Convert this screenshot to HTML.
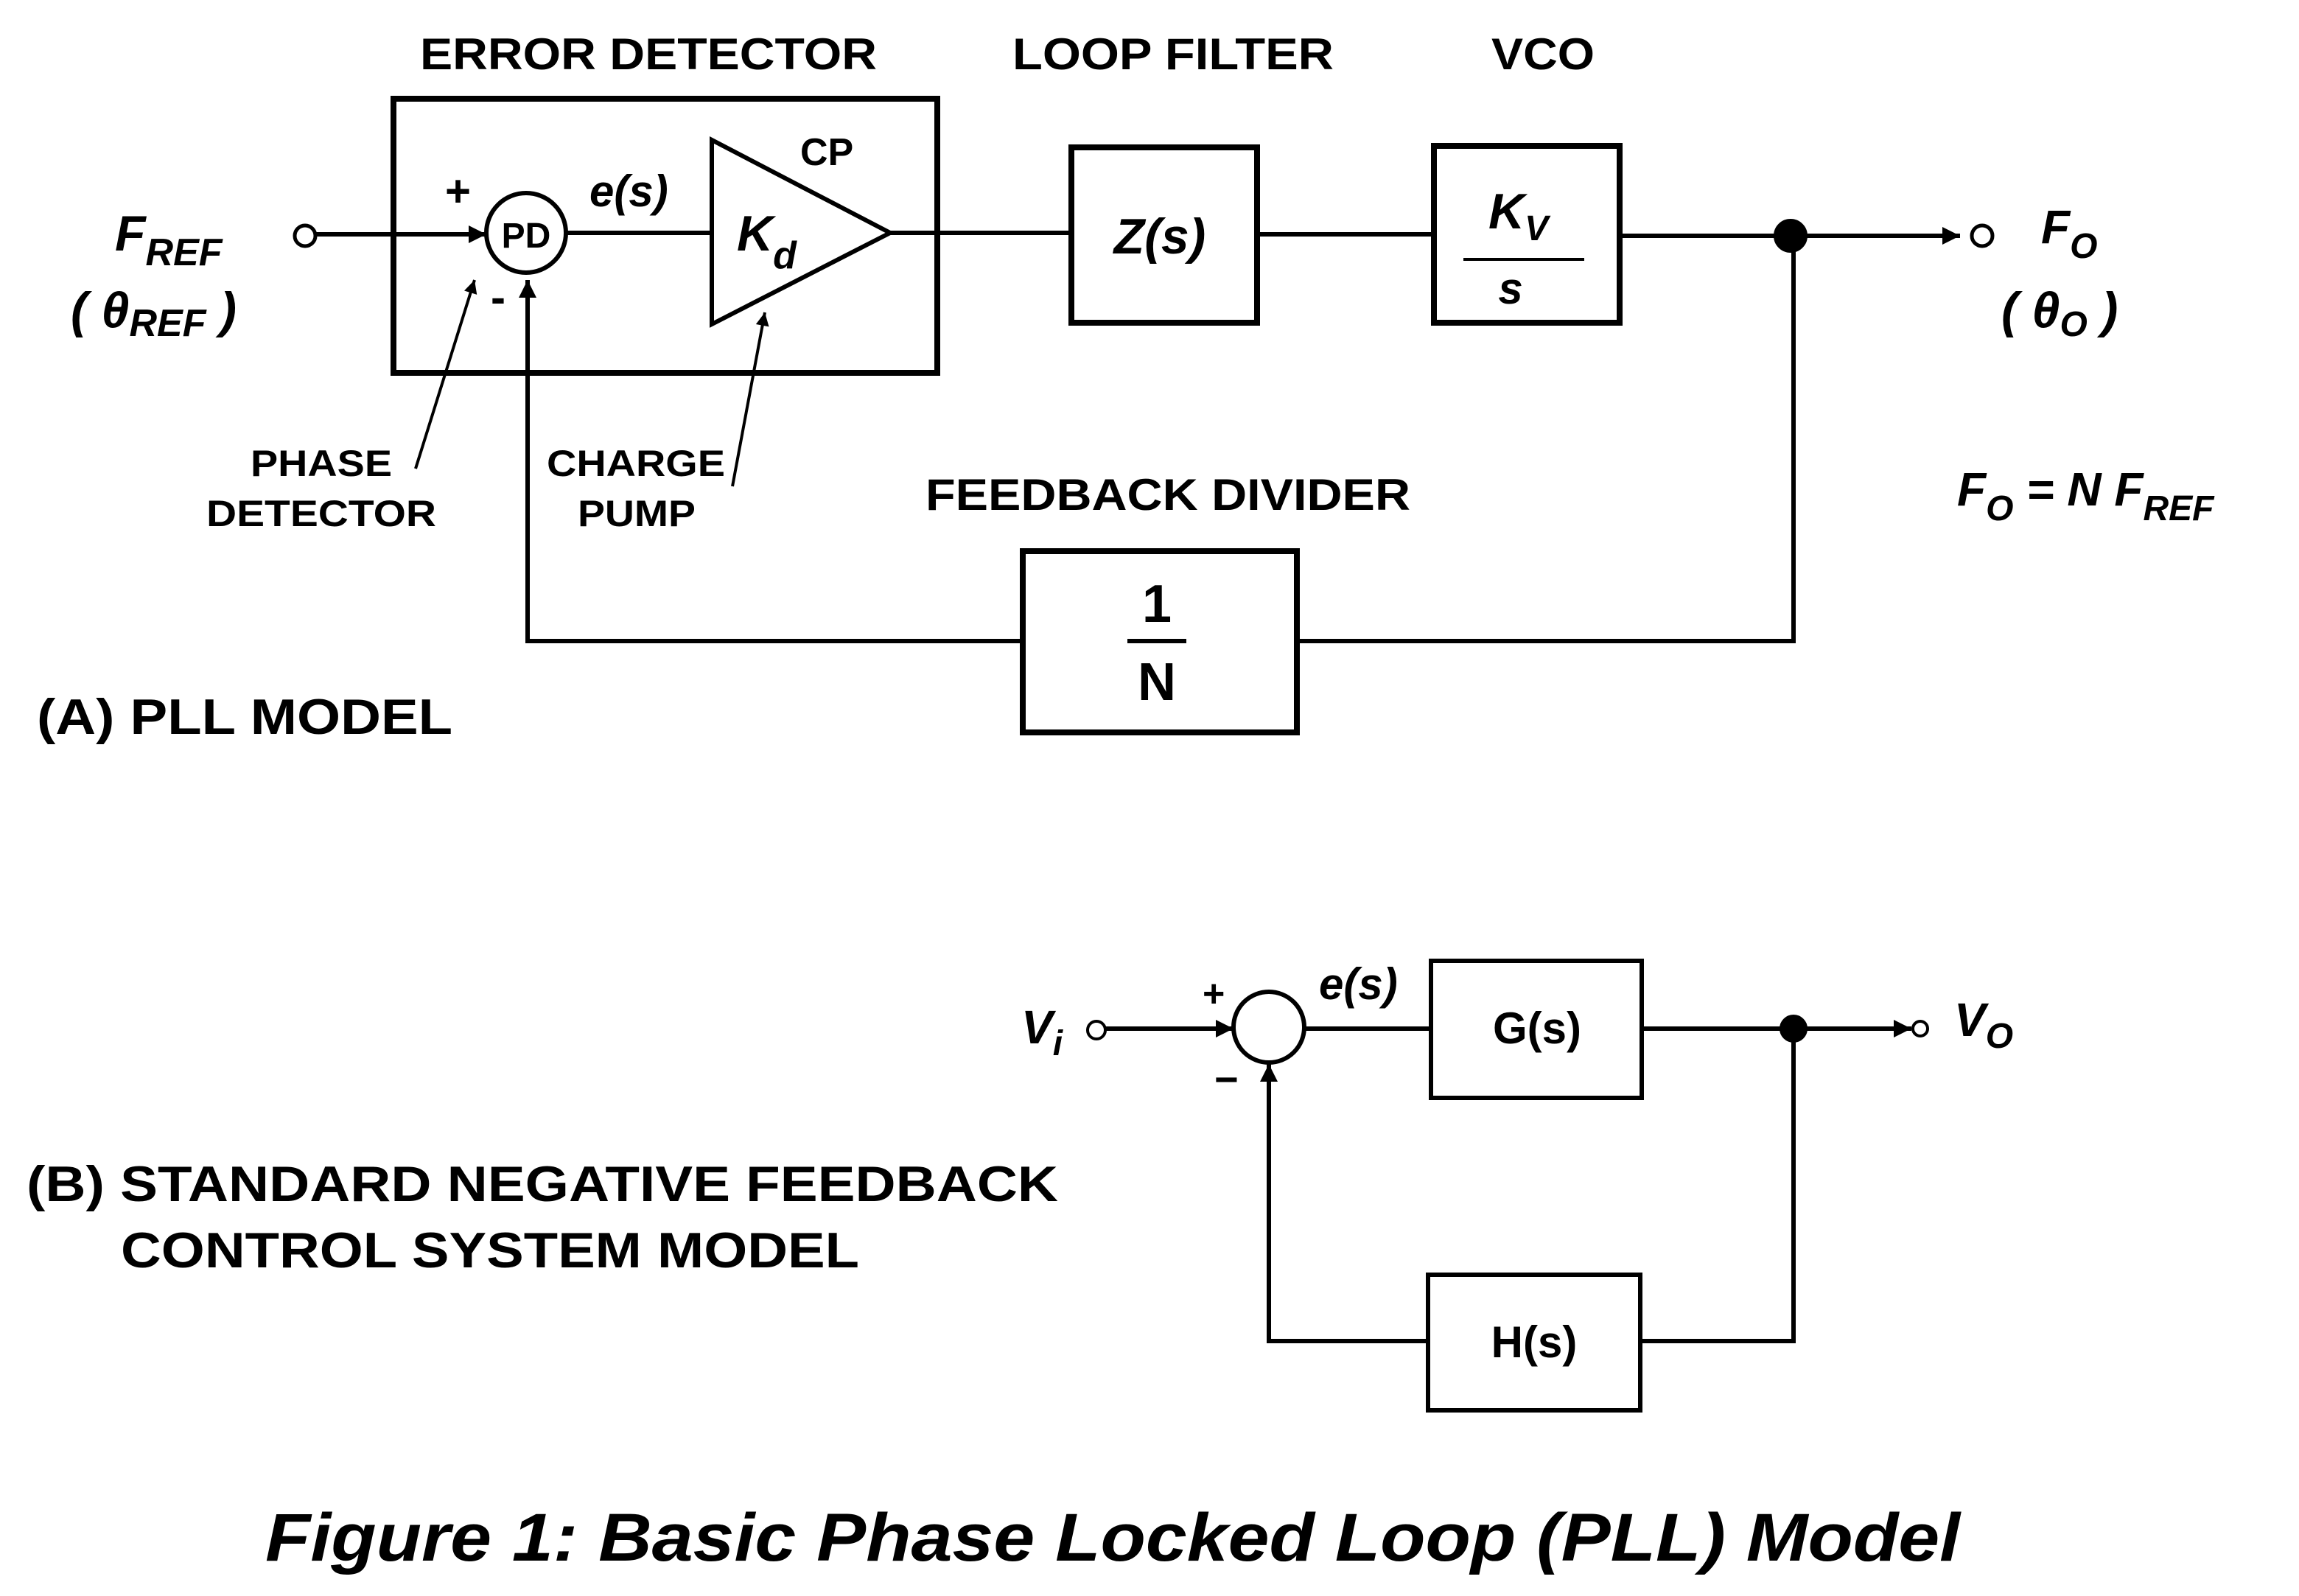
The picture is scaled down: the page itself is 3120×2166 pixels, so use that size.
<!DOCTYPE html>
<html><head><meta charset="utf-8"><style>
html,body{margin:0;padding:0;background:#fff;}
svg{display:block;}
text{font-family:"Liberation Sans",Arial,sans-serif;font-weight:bold;fill:#000;}
</style></head><body>
<svg width="3120" height="2166" viewBox="0 0 1560 1083" xmlns="http://www.w3.org/2000/svg">
<defs>
<marker id="ar" viewBox="0 0 10 10" refX="10" refY="5" markerWidth="16" markerHeight="9" orient="auto" markerUnits="userSpaceOnUse">
<path d="M0,0 L10,5 L0,10 z" fill="#000"/></marker>
<marker id="ab" viewBox="0 0 10 10" refX="10" refY="5" markerWidth="24" markerHeight="12" orient="auto" markerUnits="userSpaceOnUse">
<path d="M0,0 L10,5 L0,10 z" fill="#000"/></marker>
</defs>
<g stroke="#000" fill="none" stroke-width="3">
<rect x="267" y="67" width="369" height="186" stroke-width="4"/>
<circle cx="207" cy="160" r="7" stroke-width="2.5"/>
<line x1="214" y1="159" x2="330" y2="159" marker-end="url(#ab)"/>
<circle cx="357" cy="158" r="27"/>
<line x1="384" y1="158" x2="483" y2="158"/>
<polygon points="483,95 483,220 604,158"/>
<line x1="604" y1="158" x2="727" y2="158"/>
<rect x="727" y="100" width="126" height="119" stroke-width="4"/>
<line x1="853" y1="159" x2="973" y2="159"/>
<rect x="973" y="99" width="126" height="120" stroke-width="4"/>
<line x1="993" y1="176" x2="1075" y2="176" stroke-width="2"/>
<line x1="1099" y1="160" x2="1330" y2="160" marker-end="url(#ab)"/>
<circle cx="1345" cy="160" r="7" stroke-width="2.5"/>
<circle cx="1215" cy="160" r="10" fill="#000"/>
<polyline points="1217,160 1217,435 880,435"/>
<rect x="694" y="374" width="186" height="123" stroke-width="4"/>
<polyline points="694,435 358,435 358,190" marker-end="url(#ab)"/>
<line x1="282" y1="318" x2="322" y2="190" stroke-width="2" marker-end="url(#ar)"/>
<line x1="497" y1="330" x2="519" y2="212" stroke-width="2" marker-end="url(#ar)"/>
<circle cx="744" cy="699" r="6" stroke-width="2"/>
<line x1="750" y1="698" x2="837" y2="698" marker-end="url(#ab)"/>
<circle cx="861" cy="697" r="24"/>
<line x1="885" y1="698" x2="971" y2="698"/>
<rect x="971" y="652" width="143" height="93"/>
<line x1="1114" y1="698" x2="1297" y2="698" marker-end="url(#ab)"/>
<circle cx="1303" cy="698" r="5" stroke-width="2"/>
<circle cx="1217" cy="698" r="8" fill="#000"/>
<polyline points="1217,698 1217,910 1113,910"/>
<rect x="969" y="865" width="144" height="92"/>
<polyline points="969,910 861,910 861,722" marker-end="url(#ab)"/>
</g>
<text x="285" y="47" font-size="30" textLength="310" lengthAdjust="spacingAndGlyphs">ERROR DETECTOR</text>
<text x="687" y="47" font-size="30" textLength="218" lengthAdjust="spacingAndGlyphs">LOOP FILTER</text>
<text x="1012" y="47" font-size="30" textLength="70" lengthAdjust="spacingAndGlyphs">VCO</text>
<text x="78" y="170" font-size="34" font-style="italic">F<tspan font-size="26" dy="10">REF</tspan></text>
<text x="48" y="222" font-size="34" font-style="italic">( θ<tspan font-size="26" dy="6">REF</tspan><tspan dy="-6"> )</tspan></text>
<text x="357" y="168" font-size="24" text-anchor="middle">PD</text>
<text x="302" y="140" font-size="30">+</text>
<text x="333" y="212" font-size="30">-</text>
<text x="400" y="140" font-size="30" font-style="italic">e(s)</text>
<text x="500" y="170" font-size="34" font-style="italic">K<tspan font-size="26" dy="12">d</tspan></text>
<text x="543" y="112" font-size="26">CP</text>
<text x="787" y="172" font-size="34" font-style="italic" text-anchor="middle">Z(s)</text>
<text x="1010" y="155" font-size="34" font-style="italic">K<tspan font-size="24" dy="8">V</tspan></text>
<text x="1025" y="206" font-size="30" font-style="italic" text-anchor="middle">s</text>
<text x="1385" y="165" font-size="32" font-style="italic">F<tspan font-size="24" dy="10">O</tspan></text>
<text x="1358" y="222" font-size="34" font-style="italic">( θ<tspan font-size="24" dy="6">O</tspan><tspan dy="-6"> )</tspan></text>
<text x="170" y="323" font-size="25" textLength="96" lengthAdjust="spacingAndGlyphs">PHASE</text>
<text x="140" y="357" font-size="25" textLength="156" lengthAdjust="spacingAndGlyphs">DETECTOR</text>
<text x="371" y="323" font-size="25" textLength="121" lengthAdjust="spacingAndGlyphs">CHARGE</text>
<text x="392" y="357" font-size="25" textLength="80" lengthAdjust="spacingAndGlyphs">PUMP</text>
<text x="628" y="346" font-size="30" textLength="329" lengthAdjust="spacingAndGlyphs">FEEDBACK DIVIDER</text>
<text x="1328" y="343" font-size="32" font-style="italic">F<tspan font-size="24" dy="10">O</tspan><tspan dy="-10"> = N F</tspan><tspan font-size="24" dy="10">REF</tspan></text>
<line x1="765" y1="435" x2="805" y2="435" stroke="#000" stroke-width="3"/>
<text x="785" y="422" font-size="36" text-anchor="middle">1</text>
<text x="785" y="475" font-size="36" text-anchor="middle">N</text>
<text x="25" y="498" font-size="34" textLength="282" lengthAdjust="spacingAndGlyphs">(A) PLL MODEL</text>
<text x="693" y="708" font-size="32" font-style="italic">V<tspan font-size="24" dy="8">i</tspan></text>
<text x="816" y="683" font-size="26">+</text>
<text x="824" y="742" font-size="28">−</text>
<text x="895" y="678" font-size="30" font-style="italic">e(s)</text>
<text x="1043" y="708" font-size="30" text-anchor="middle">G(s)</text>
<text x="1326" y="703" font-size="32" font-style="italic">V<tspan font-size="24" dy="8">O</tspan></text>
<text x="1041" y="921" font-size="30" text-anchor="middle">H(s)</text>
<text x="18" y="815" font-size="34" textLength="700" lengthAdjust="spacingAndGlyphs">(B) STANDARD NEGATIVE FEEDBACK</text>
<text x="82" y="860" font-size="34" textLength="501" lengthAdjust="spacingAndGlyphs">CONTROL SYSTEM MODEL</text>
<text x="180" y="1059" font-size="46" font-style="italic" textLength="1150" lengthAdjust="spacingAndGlyphs">Figure 1: Basic Phase Locked Loop (PLL) Model</text>
</svg>
</body></html>
